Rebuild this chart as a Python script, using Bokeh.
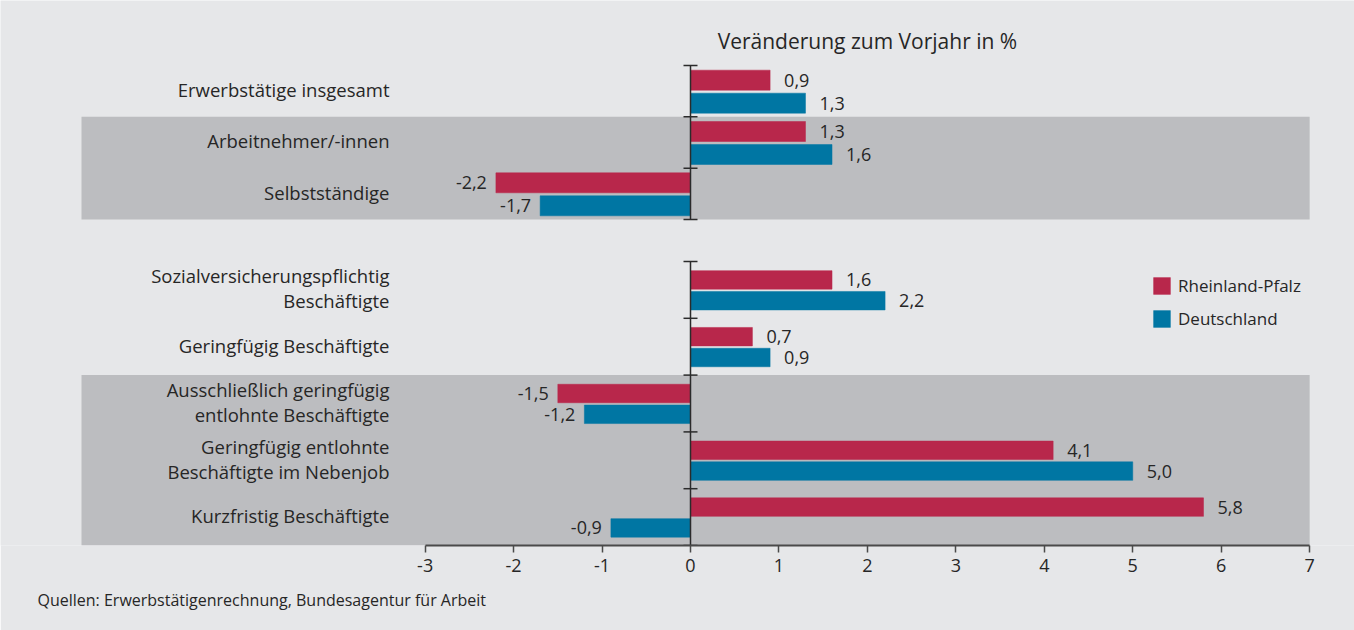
from bokeh.plotting import figure
from bokeh.models import (Range1d, LinearAxis, FixedTicker, Legend, LegendItem,
                          Title, ColumnDataSource)
from bokeh.core.properties import value
from bokeh.embed import file_html
from bokeh.resources import INLINE

# ---------------- data ----------------
group1 = ["Erwerbstätige insgesamt", "Arbeitnehmer/-innen", "Selbstständige"]
group2 = ["Sozialversicherungspflichtig\nBeschäftigte", "Geringfügig Beschäftigte",
          "Ausschließlich geringfügig\nentlohnte Beschäftigte",
          "Geringfügig entlohnte\nBeschäftigte im Nebenjob", "Kurzfristig Beschäftigte"]
rlp_g1 = [0.9, 1.3, -2.2]
de_g1 = [1.3, 1.6, -1.7]
rlp_g2 = [1.6, 0.7, -1.5, 4.1, 5.8]
de_g2 = [2.2, 0.9, -1.2, 5.0, -0.9]
series_names = ["Rheinland-Pfalz", "Deutschland"]
x_ticks = [-3, -2, -1, 0, 1, 2, 3, 4, 5, 6, 7]
x_tick_labels = ["-3", "-2", "-1", "0", "1", "2", "3", "4", "5", "6", "7"]
shaded_g1 = [1, 2]        # row indices with grey band
shaded_g2 = [2, 3, 4]
title_text = "Veränderung zum Vorjahr in %"
source_text = "Quellen: Erwerbstätigenrechnung, Bundesagentur für Arbeit"

# ---------------- style ----------------
BG = "#e6e7e9"
BAND = "#bcbdc0"
RED = "#b8274b"
BLUE = "#0076a3"
TXT = "#262626"
FONT = "Open Sans"

W, H = 1354, 630
FRAME_BOTTOM = 545          # vertical layout units = pixels from top of figure
PX = 88.45                  # pixels per x unit
ZERO = 690                  # pixel of x=0 inside the figure

def fx(px):
    return (px - ZERO) / PX

# vertical layout (y in pixels from top, flipped range)
g1_top, g1_pitch, g1_h, g1_off = 65.0, 51.33, 20, (-11.0, 12.0)
g2_top, g2_pitch, g2_h, g2_off = 261.0, 56.8, 18.5, (-10.0, 10.8)

p = figure(width=W, height=H, output_backend="svg", toolbar_location=None,
           x_range=Range1d(fx(0), fx(W)), y_range=Range1d(FRAME_BOTTOM, 0),
           min_border_left=0, min_border_right=0, min_border_top=0,
           min_border_bottom=H - FRAME_BOTTOM, x_axis_type=None, y_axis_type=None)
p.background_fill_color = BG
p.border_fill_color = BG
p.outline_line_color = None
p.xgrid.visible = False
p.ygrid.visible = False

band_left = fx(81)
band_right = 7.0

def layout(top, pitch, n):
    return [top + pitch * (i + 0.5) for i in range(n)]

c1 = layout(g1_top, g1_pitch, len(group1))
c2 = layout(g2_top, g2_pitch, len(group2))

# grey bands
for shaded, centers, pitch in ((shaded_g1, c1, g1_pitch), (shaded_g2, c2, g2_pitch)):
    top = min(centers[i] for i in shaded) - pitch / 2
    bot = max(centers[i] for i in shaded) + pitch / 2
    p.quad(left=band_left, right=band_right, top=top, bottom=bot,
           fill_color=BAND, line_color=None)

# bars
bars = {}
for name, col, k, vals in (("r", RED, 0, (rlp_g1, rlp_g2)), ("b", BLUE, 1, (de_g1, de_g2))):
    ys = [c + g1_off[k] for c in c1] + [c + g2_off[k] for c in c2]
    hs = [g1_h] * len(c1) + [g2_h] * len(c2)
    xs = list(vals[0]) + list(vals[1])
    src = ColumnDataSource(dict(y=ys, right=xs, h=hs,
                                lab=[f"{v:.1f}".replace(".", ",") for v in xs],
                                align=["left" if v >= 0 else "right" for v in xs],
                                off=[14 if v >= 0 else -9 for v in xs]))
    bars[name] = p.hbar(y="y", left=0, right="right", height="h", source=src,
                        fill_color=col, line_color=col, line_width=0.5)
    p.text(x="right", y="y", text="lab", source=src, text_align="align",
           x_offset="off", text_baseline="middle", text_font=value(FONT),
           text_font_size="18px", text_color=TXT)

# zero line with row ticks
for top, pitch, n in ((g1_top, g1_pitch, len(group1)), (g2_top, g2_pitch, len(group2))):
    p.segment(x0=0, x1=0, y0=top, y1=top + pitch * n, line_color="#2b2b2b", line_width=1.5)
    tys = [top + pitch * i for i in range(n + 1)]
    p.segment(x0=[fx(ZERO - 7)] * len(tys), x1=[fx(ZERO + 7)] * len(tys), y0=tys, y1=tys,
              line_color="#2b2b2b", line_width=1.5)

# category labels
labx = fx(389)
p.text(x=[labx] * (len(c1) + len(c2)), y=[c - 1.5 for c in c1 + c2], text=group1 + group2,
       text_align="right", text_baseline="middle", text_font=value(FONT),
       text_font_size="18.5px", text_color=TXT, text_line_height=1.0)

# title
p.text(x=[2.0], y=[40], text=[title_text], text_align="center", text_baseline="middle",
       text_font=value(FONT), text_font_size="21px", text_color=TXT)

# x axis
ax = LinearAxis(bounds=(-3, 7), ticker=FixedTicker(ticks=x_ticks),
                major_label_overrides={t: l for t, l in zip(x_ticks, x_tick_labels)})
ax.axis_line_color = "#4a4a4a"
ax.axis_line_width = 2
ax.major_tick_line_color = "#4a4a4a"
ax.major_tick_line_width = 1.5
ax.major_tick_out = 7
ax.major_tick_in = 0
ax.minor_tick_line_color = None
ax.major_label_standoff = 6
ax.major_label_text_font = FONT
ax.major_label_text_font_size = "18px"
ax.major_label_text_color = TXT
p.add_layout(ax, "below")

# legend
legend = Legend(items=[LegendItem(label=series_names[0], renderers=[bars["r"]]),
                       LegendItem(label=series_names[1], renderers=[bars["b"]])],
                location=(1151, 215), orientation="vertical")
legend.background_fill_alpha = 0
legend.border_line_color = None
legend.padding = 0
legend.margin = 0
legend.spacing = 10
legend.glyph_width = 21
legend.glyph_height = 21
legend.label_height = 21
legend.label_standoff = 6
legend.label_text_font = FONT
legend.label_text_font_size = "17px"
legend.label_text_color = TXT
p.add_layout(legend, "center")

# source note
p.add_layout(Title(text=source_text, align="left", offset=37, standoff=25,
                   text_font=FONT, text_font_size="16px", text_font_style="normal",
                   text_color=TXT), "below")

open("out.html", "w").write(file_html(p, INLINE))
